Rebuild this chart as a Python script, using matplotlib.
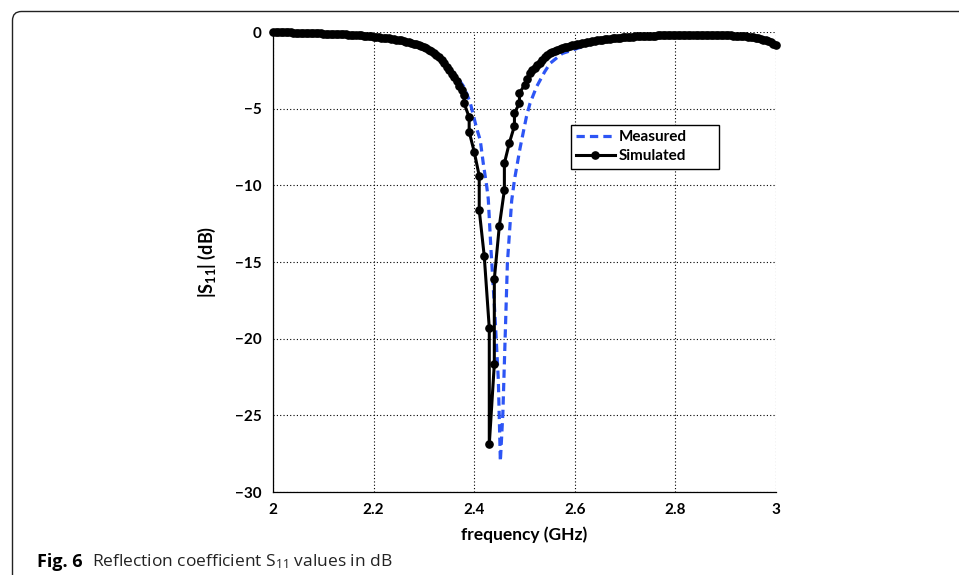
import matplotlib
matplotlib.use("Agg")
import matplotlib.pyplot as plt
from matplotlib.path import Path
from matplotlib.patches import PathPatch, Rectangle
from matplotlib.transforms import IdentityTransform

# ---------------- data ----------------
sim_freq = [2.000, 2.005, 2.010, 2.015, 2.020, 2.025, 2.030, 2.035, 2.040, 2.045,
            2.050, 2.055, 2.060, 2.065, 2.070, 2.075, 2.080, 2.085, 2.090, 2.095,
            2.100, 2.105, 2.110, 2.115, 2.120, 2.125, 2.130, 2.135, 2.140, 2.145,
            2.150, 2.155, 2.160, 2.165, 2.170, 2.175, 2.180, 2.185, 2.190, 2.195,
            2.200, 2.205, 2.210, 2.215, 2.220, 2.225, 2.230, 2.235, 2.240, 2.245,
            2.250, 2.255, 2.260, 2.265, 2.270, 2.275, 2.280, 2.285, 2.290, 2.295,
            2.300, 2.305, 2.310, 2.315, 2.320, 2.325, 2.330, 2.335, 2.340, 2.345,
            2.350, 2.355, 2.360, 2.365, 2.370, 2.375,
            2.38, 2.38, 2.39, 2.39, 2.40, 2.41, 2.41, 2.42, 2.43, 2.43,
            2.44, 2.44, 2.45, 2.46, 2.46, 2.47, 2.48, 2.48, 2.49, 2.49,
            2.500, 2.505, 2.510, 2.515, 2.520, 2.525, 2.530, 2.535, 2.540, 2.545,
            2.550, 2.555, 2.560, 2.565, 2.570, 2.575, 2.580, 2.585, 2.590, 2.595,
            2.600, 2.605, 2.610, 2.615, 2.620, 2.625, 2.630, 2.635, 2.640, 2.645,
            2.650, 2.655, 2.660, 2.665, 2.670, 2.675, 2.680, 2.685, 2.690, 2.695,
            2.700, 2.705, 2.710, 2.715, 2.720, 2.725, 2.730, 2.735, 2.740, 2.745,
            2.750, 2.755, 2.760, 2.765, 2.770, 2.775, 2.780, 2.785, 2.790, 2.795,
            2.800, 2.805, 2.810, 2.815, 2.820, 2.825, 2.830, 2.835, 2.840, 2.845,
            2.850, 2.855, 2.860, 2.865, 2.870, 2.875, 2.880, 2.885, 2.890, 2.895,
            2.900, 2.905, 2.910, 2.915, 2.920, 2.925, 2.930, 2.935, 2.940, 2.945,
            2.950, 2.955, 2.960, 2.965, 2.970, 2.975, 2.980, 2.985, 2.990, 2.995,
            3.000]
sim_db = [-0.02, -0.02, -0.02, -0.02, -0.03, -0.03, -0.03, -0.03, -0.04, -0.04,
          -0.05, -0.05, -0.06, -0.06, -0.07, -0.07, -0.08, -0.08, -0.09, -0.09,
          -0.10, -0.10, -0.11, -0.12, -0.12, -0.13, -0.14, -0.14, -0.15, -0.16,
          -0.17, -0.18, -0.19, -0.20, -0.21, -0.22, -0.24, -0.25, -0.27, -0.28,
          -0.30, -0.32, -0.34, -0.36, -0.38, -0.40, -0.42, -0.45, -0.47, -0.50,
          -0.52, -0.55, -0.59, -0.63, -0.67, -0.71, -0.76, -0.81, -0.86, -0.92,
          -0.98, -1.06, -1.16, -1.27, -1.39, -1.52, -1.66, -1.84, -2.05, -2.27,
          -2.50, -2.72, -2.95, -3.20, -3.50, -3.80,
          -4.11, -4.65, -5.56, -6.50, -7.81, -9.39, -11.61, -14.63, -19.32, -26.88,
          -21.66, -16.11, -12.64, -10.31, -8.56, -7.22, -6.13, -5.30, -4.63, -3.98,
          -3.46, -3.05, -2.69, -2.50, -2.35, -2.17, -2.00, -1.80, -1.60, -1.50,
          -1.40, -1.31, -1.22, -1.16, -1.10, -1.05, -1.00, -0.96, -0.92, -0.88,
          -0.85, -0.81, -0.77, -0.73, -0.70, -0.66, -0.63, -0.60, -0.57, -0.54,
          -0.52, -0.49, -0.47, -0.45, -0.43, -0.41, -0.39, -0.37, -0.36, -0.34,
          -0.33, -0.32, -0.31, -0.30, -0.29, -0.28, -0.27, -0.26, -0.25, -0.25,
          -0.24, -0.23, -0.23, -0.22, -0.22, -0.21, -0.21, -0.21, -0.20, -0.20,
          -0.20, -0.20, -0.19, -0.19, -0.19, -0.19, -0.19, -0.19, -0.19, -0.19,
          -0.19, -0.19, -0.19, -0.20, -0.20, -0.20, -0.20, -0.21, -0.21, -0.21,
          -0.21, -0.22, -0.22, -0.23, -0.24, -0.25, -0.26, -0.27, -0.29, -0.31,
          -0.33, -0.35, -0.38, -0.41, -0.45, -0.50, -0.55, -0.61, -0.68, -0.76,
          -0.85]

meas_freq = [2.00, 2.05, 2.10, 2.15, 2.20, 2.25, 2.30, 2.33, 2.35, 2.37,
             2.38, 2.392, 2.405, 2.412, 2.418, 2.425, 2.428, 2.433, 2.441, 2.448,
             2.452, 2.457, 2.461, 2.466, 2.4745, 2.48, 2.491, 2.504, 2.511, 2.524,
             2.54, 2.551, 2.575, 2.596, 2.62, 2.65, 2.70, 2.75, 2.80, 2.85,
             2.90, 2.95, 2.98, 3.00]
meas_db = [-0.03, -0.06, -0.10, -0.17, -0.28, -0.50, -1.00, -1.60, -2.30, -3.13,
           -3.60, -4.60, -6.30, -7.05, -8.56, -10.09, -10.90, -14.00, -18.33, -22.70,
           -28.00, -24.85, -20.50, -15.07, -11.00, -9.65, -7.60, -5.50, -4.65, -3.57,
           -2.60, -2.04, -1.40, -1.17, -0.90, -0.65, -0.40, -0.28, -0.20, -0.18,
           -0.18, -0.23, -0.42, -0.72]

x_ticks = [2.0, 2.2, 2.4, 2.6, 2.8, 3.0]
x_tick_labels = ["2", "2.2", "2.4", "2.6", "2.8", "3"]
y_ticks = [0, -5, -10, -15, -20, -25, -30]
y_tick_labels = ["0", "\u22125", "\u221210", "\u221215", "\u221220", "\u221225", "\u221230"]

# ---------------- figure ----------------
plt.rcParams['font.family'] = ['Lato', 'DejaVu Sans']
plt.rcParams['mathtext.default'] = 'regular'

W, H = 959, 575
fig = plt.figure(figsize=(W / 100, H / 100), dpi=100)
fig.patch.set_facecolor('white')

# rounded frame (top and left rules)
r = 9
x0, ytop = 12.5, H - 11.5
verts = [(x0, -5), (x0, ytop - r), (x0, ytop), (x0 + r, ytop), (W + 5, ytop)]
codes = [Path.MOVETO, Path.LINETO, Path.CURVE3, Path.CURVE3, Path.LINETO]
frame = PathPatch(Path(verts, codes), transform=IdentityTransform(),
                  facecolor='none', edgecolor='#222222', lw=1.0)
fig.patches.append(frame)

ax = fig.add_axes([273 / W, 1 - 492 / H, (776 - 273) / W, (492 - 32) / H])

ax.plot(meas_freq, meas_db, linestyle=(0, (2.6, 1.6)), color='#2d55f5', lw=2.3,
        label='Measured', zorder=3)
ax.plot(sim_freq, sim_db, '-o', color='black', lw=2.2, markersize=5.2,
        label='Simulated', zorder=4, clip_on=False)

ax.set_xlim(2, 3)
ax.set_ylim(-30, 0)
ax.set_xticks(x_ticks)
ax.set_xticklabels(x_tick_labels)
ax.set_yticks(y_ticks)
ax.set_yticklabels(y_tick_labels)
ax.tick_params(length=0, pad=8, labelsize=11)
for lab in ax.get_xticklabels() + ax.get_yticklabels():
    lab.set_fontweight('bold')

ax.grid(True, color='black', linestyle=(0, (1, 2)), lw=0.8)
for s in ['top', 'right']:
    ax.spines[s].set_visible(False)
for s in ['left', 'bottom']:
    ax.spines[s].set_linewidth(0.9)

ax.set_xlabel('frequency (GHz)', fontsize=12.5, fontweight='bold', labelpad=7)
ax.set_ylabel(r'|S$_{11}$| (dB)', fontsize=13, fontweight='bold', labelpad=12)

# legend box (MATLAB style, wide right padding)
lx0, lx1 = (571 - 273) / 503, (719 - 273) / 503
ly1, ly0 = 1 - (125 - 32) / 460, 1 - (169 - 32) / 460
ax.add_patch(Rectangle((lx0, ly0), lx1 - lx0, ly1 - ly0, transform=ax.transAxes,
                       facecolor='white', edgecolor='black', lw=1.0, zorder=5))
leg = ax.legend(loc='upper left', bbox_to_anchor=(lx0, ly1), borderaxespad=0,
                frameon=False, prop={'weight': 'bold', 'size': 11}, handlelength=2.5,
                handletextpad=0.3, borderpad=0.35, labelspacing=0.3)
leg.set_zorder(6)

fig.text(37 / W, 1 - 562 / H, 'Fig. 6', fontsize=13, fontweight='bold',
         family=['Open Sans', 'DejaVu Sans'], va='center', ha='left')
fig.text(92 / W, 1 - 562 / H, r'Reflection coefficient S$_{11}$ values in dB', fontsize=12.5,
         family=['Open Sans', 'DejaVu Sans'], va='center', ha='left', color='#222222')

fig.savefig('out.png', dpi=100)
